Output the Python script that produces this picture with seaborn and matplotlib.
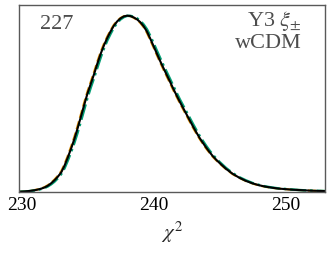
import pandas as pd
import matplotlib
matplotlib.use("Agg")
import matplotlib.pyplot as plt
import seaborn as sns

# chi2 grid and the three distributions (normalised to peak = 1)
chi2 = [229.8, 230.25, 230.5, 230.75, 231.0, 231.25, 231.5, 231.75, 232.0, 232.25,
        232.5, 232.75, 233.0, 233.25, 233.5, 233.75, 234.0, 234.25, 234.5, 234.75,
        235.0, 235.25, 235.5, 235.75, 236.0, 236.25, 236.5, 236.75, 237.0, 237.25,
        237.5, 237.75, 238.0, 238.25, 238.5, 238.75, 239.0, 239.25, 239.5, 239.75,
        240.0, 240.25, 240.5, 240.75, 241.0, 241.25, 241.5, 241.75, 242.0, 242.25,
        242.5, 242.75, 243.0, 243.25, 243.5, 243.75, 244.0, 244.25, 244.5, 244.75,
        245.0,
        245.5, 246.0, 246.5, 247.0, 247.5, 248.0, 248.5, 249.0, 249.5, 250.0,
        250.5, 251.0, 251.5, 252.0, 252.5, 253.0]
black = [0.000, 0.002, 0.004, 0.006, 0.009, 0.013, 0.018, 0.025, 0.035, 0.049,
         0.066, 0.086, 0.110, 0.148, 0.195, 0.245, 0.300, 0.362, 0.428, 0.495,
         0.560, 0.615, 0.670, 0.730, 0.785, 0.833, 0.875, 0.912, 0.944, 0.968,
         0.985, 0.996, 1.000, 0.998, 0.990, 0.979, 0.963, 0.940, 0.910, 0.870,
         0.828, 0.785, 0.743, 0.703, 0.664, 0.625, 0.585, 0.547, 0.510, 0.475,
         0.440, 0.405, 0.370, 0.337, 0.305, 0.277, 0.250, 0.225, 0.202, 0.182,
         0.164,
         0.130, 0.102, 0.080, 0.062, 0.048, 0.037, 0.029, 0.023, 0.018, 0.015,
         0.012, 0.010, 0.008, 0.006, 0.005, 0.004]
green = [0.000, 0.001, 0.003, 0.005, 0.008, 0.011, 0.016, 0.022, 0.031, 0.043,
         0.058, 0.077, 0.100, 0.133, 0.177, 0.225, 0.278, 0.337, 0.402, 0.468,
         0.535, 0.594, 0.648, 0.707, 0.764, 0.815, 0.860, 0.898, 0.933, 0.960,
         0.979, 0.992, 0.999, 0.999, 0.994, 0.985, 0.971, 0.950, 0.923, 0.886,
         0.845, 0.802, 0.760, 0.719, 0.680, 0.641, 0.601, 0.562, 0.524, 0.489,
         0.454, 0.419, 0.384, 0.350, 0.317, 0.288, 0.260, 0.234, 0.210, 0.189,
         0.170,
         0.135, 0.106, 0.083, 0.065, 0.050, 0.039, 0.030, 0.024, 0.019, 0.016,
         0.013, 0.010, 0.008, 0.007, 0.005, 0.004]
orange = [0.000, 0.002, 0.004, 0.006, 0.010, 0.014, 0.019, 0.027, 0.038, 0.052,
          0.070, 0.091, 0.116, 0.156, 0.204, 0.256, 0.312, 0.375, 0.441, 0.508,
          0.571, 0.626, 0.682, 0.741, 0.795, 0.842, 0.882, 0.918, 0.949, 0.971,
          0.987, 0.997, 1.000, 0.997, 0.988, 0.976, 0.959, 0.935, 0.903, 0.862,
          0.820, 0.777, 0.735, 0.695, 0.656, 0.617, 0.577, 0.540, 0.503, 0.468,
          0.433, 0.398, 0.363, 0.331, 0.300, 0.272, 0.245, 0.221, 0.198, 0.179,
          0.161,
          0.128, 0.100, 0.079, 0.061, 0.047, 0.036, 0.028, 0.022, 0.018, 0.015,
          0.012, 0.010, 0.008, 0.006, 0.005, 0.004]

xticks = [230, 240, 250]

sns.set_style("white")
plt.rcParams['font.family'] = ['Liberation Serif', 'DejaVu Serif']
plt.rcParams['mathtext.fontset'] = 'stix'

df = pd.DataFrame({'chi2': chi2, 'black': black, 'orange': orange, 'green': green})

fig, ax = plt.subplots(figsize=(3.33, 2.55), dpi=100)
fig.subplots_adjust(left=0.057, right=0.976, top=0.976, bottom=0.244)

sns.lineplot(data=df, x='chi2', y='orange', color='#de8f05', lw=1.6,
             linestyle='--', ax=ax)
sns.lineplot(data=df, x='chi2', y='green', color='#029e73', lw=1.8,
             linestyle='-.', ax=ax)
sns.lineplot(data=df, x='chi2', y='black', color='black', lw=1.5, ax=ax)

ax.set_xlim(229.8, 253.0)
ax.set_ylim(0, 1.06)
ax.set_yticks([])
ax.set_xticks(xticks)
ax.tick_params(axis='x', direction='inout', length=4, width=0.8,
               colors='0.3', labelcolor='black', labelsize=14, pad=1)
ax.set_ylabel('')
ax.set_xlabel(r'$\chi^2$', fontsize=15, labelpad=4)
for s in ax.spines.values():
    s.set_color('0.35')
    s.set_linewidth(1.0)

ax.text(0.07, 0.95, '227', transform=ax.transAxes, fontsize=16,
        color='0.3', ha='left', va='top')
ax.text(0.925, 0.985, 'Y3 $\\xi_{\\pm}$\nwCDM', transform=ax.transAxes,
        fontsize=16, color='0.3', ha='right', va='top', linespacing=1.05)

fig.savefig('out.png', dpi=100)
